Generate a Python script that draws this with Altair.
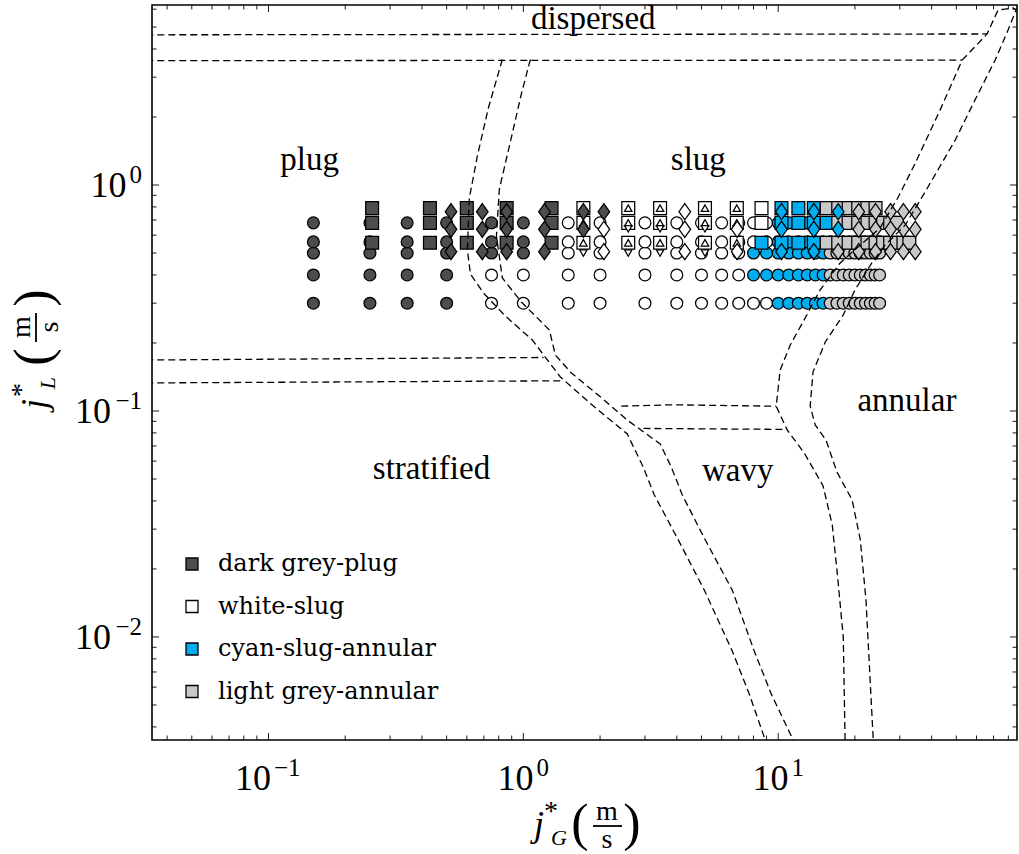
import altair as alt
import pandas as pd

SERIF = "Liberation Serif"
LEGEND_FONT = "DejaVu Serif"

# plot rectangle size in pixels and outer padding
W, H = 865, 735
PAD = {"left": 152, "top": 5, "right": 2, "bottom": 114}

X_DOMAIN = [0.0349, 86.5]
Y_DOMAIN = [0.0035, 6.26]

REGIMES = ["dark grey-plug", "white-slug", "cyan-slug-annular", "light grey-annular"]
REGIME_COLORS = ["#4d4d4d", "#ffffff", "#00aeef", "#c8c8c8"]
CODES = {"D": REGIMES[0], "W": REGIMES[1], "C": REGIMES[2], "G": REGIMES[3]}

# ---- measured points (x = j_G*, y = j_L*), one code letter per x value ----
CIRCLE_X = [0.15, 0.25, 0.35, 0.5, 0.75, 1, 1.5, 2, 3, 4, 5, 6, 7, 8, 9, 10,
            11, 12, 13, 14, 15, 16, 17, 18, 19, 20, 21, 22, 23, 24, 25]
CIRCLE_Y = [0.30, 0.40, 0.50, 0.56, 0.68]
CIRCLE_CODES = [
    "DDDD" + "WWWWWWWWWWW" + "CCCCCC" + "GGGGGGGGGG",
    "DDDD" + "WWWWWWWWW" + "CCCCCCCC" + "GGGGGGGGGG",
    "DDDDDD" + "WWWWWWW" + "CCCCCCCC" + "GGGGGGGGGG",
    "DDDDDD" + "WWWWWWWWW" + "CCCCCC" + "GGGGGGGGGG",
    "DDDDDD" + "WWWWWWWWW" + "CCCCCC" + "GGGGGGGGGG",
]

SQUARE_X = [0.255, 0.43, 0.60, 0.86, 1.29, 1.72, 2.58, 3.44, 5.16, 6.88, 8.6,
            10.3, 12.0, 13.8, 15.5, 17.2, 18.9, 20.6, 22.4, 24.1, 25.8, 27.5,
            29.2, 31.0, 32.7]
SQUARE_Y = [0.555, 0.68, 0.79]
SQUARE_CODES = [
    "DDDDD" + "WWWWW" + "CCCC" + "GGGGGGGGGGG",
    "DDDDD" + "WWWWWW" + "CCCC" + "GGGGGGGG" + "--",
    "DDDDD" + "WWWWWW" + "CCC" + "GGGGGG" + "-----",
]

DIAMOND_X = [0.52, 0.69, 0.86, 1.21, 1.72, 2.07, 4.3, 6.9, 10.3, 13.8, 17.2,
             20.7, 24.1, 27.6, 31.0, 34.5]
DIAMOND_Y = [0.507, 0.637, 0.762]
DIAMOND_CODES = [
    "DDDD-" + "WWW" + "CC" + "GGGGGG",
    "DDDDD" + "WWW" + "CCC" + "GGGGG",
    "DDDDDD" + "W-" + "CCC" + "GGGGG",
]

TRI_X = [1.72, 2.58, 3.44, 5.16, 6.88]
TRI_UP_Y = [0.555, 0.68, 0.79]
TRI_UP_CODES = ["WWWWW", "WWWWW", "WWWWW"]
TRI_DOWN_Y = [0.50, 0.64]
TRI_DOWN_CODES = ["WWWWW", "WWWWW"]

# ---- dashed regime boundaries ----
LINES = {
    "disp_upper": ([0.03, 66.0], [4.62, 4.66]),
    "disp_lower": ([0.03, 52.7], [3.55, 3.57]),
    "strat_upper": ([0.03, 1.2], [0.168, 0.1725]),
    "strat_lower": ([0.03, 1.4], [0.133, 0.136]),
    "wavy_upper": ([2.42, 3.8, 9.82], [0.105, 0.1065, 0.105]),
    "wavy_lower": ([2.96, 10.85], [0.0837, 0.0829]),
    "mid_left": ([0.827, 0.729, 0.660, 0.614, 0.603, 0.620, 0.697, 0.850, 1.085,
                  1.397, 1.882, 2.557, 2.955, 3.265, 4.018, 5.127, 6.601, 7.695, 8.894],
                 [3.592, 2.191, 1.344, 0.876, 0.516, 0.404, 0.333, 0.263, 0.206,
                  0.1414, 0.1052, 0.0791, 0.0565, 0.0425, 0.0274, 0.01614, 0.00867, 0.0056, 0.0035]),
    "mid_right": ([1.065, 0.982, 0.889, 0.805, 0.784, 0.827, 0.982, 1.265, 1.335, 1.543,
                   1.987, 2.557, 3.445, 3.805, 4.203, 5.127, 6.601, 8.05, 9.387, 11.45],
                  [3.592, 2.527, 1.55, 0.960, 0.595, 0.388, 0.3036, 0.2283, 0.1769, 0.1473,
                   0.1165, 0.0912, 0.0714, 0.0565, 0.0425, 0.0274, 0.01614, 0.00867, 0.0056, 0.0035]),
    "annular": ([18.3, 18.0, 17.0, 16.3, 15.0, 12.65, 10.85, 9.82, 10.18, 11.15,
                 12.76, 14.6, 17.5, 21.0, 25.1, 29.6, 34.5, 43.2, 52.7, 66.0,
                 72.9, 83.5, 85.8, 79.8, 71.0, 59.2, 49.5, 37.7, 31.5, 26.3,
                 23.4, 20.0, 18.0, 15.3, 13.7, 13.35, 13.97, 15.4, 17.0, 19.5,
                 21.0, 22.1, 23.6],
                [0.0035, 0.0100, 0.0198, 0.0313, 0.0466, 0.0652, 0.0824, 0.105, 0.152, 0.196,
                 0.258, 0.343, 0.452, 0.543, 0.645, 0.885, 1.25, 2.15, 3.57, 4.66,
                 5.95, 6.07, 5.95, 4.85, 3.57, 2.38, 1.58, 0.931, 0.665, 0.543,
                 0.456, 0.343, 0.266, 0.202, 0.149, 0.105, 0.0867, 0.0744, 0.0537, 0.0404,
                 0.0269, 0.0146, 0.0035]),
}

REGION_LABELS = ["dispersed", "plug", "slug", "annular", "stratified", "wavy"]
REGION_X = [1.88, 0.145, 4.86, 32.0, 0.436, 6.94]
REGION_Y = [4.90, 1.165, 1.165, 0.1004, 0.0500, 0.0490]

X_MAJOR = [0.1, 1, 10]
X_MINOR = [0.04, 0.05, 0.06, 0.07, 0.08, 0.09, 0.2, 0.3, 0.4, 0.5, 0.6, 0.7, 0.8, 0.9,
           2, 3, 4, 5, 6, 7, 8, 9, 20, 30, 40, 50, 60, 70, 80]
Y_MAJOR = [0.01, 0.1, 1]
Y_MINOR = [0.004, 0.005, 0.006, 0.007, 0.008, 0.009, 0.02, 0.03, 0.04, 0.05, 0.06,
           0.07, 0.08, 0.09, 0.2, 0.3, 0.4, 0.5, 0.6, 0.7, 0.8, 0.9, 2, 3, 4, 5, 6]
X_LABEL_EXP = ["\u22121", "0", "1"]
Y_LABEL_EXP = ["\u22122", "\u22121", "0"]

# ---------------------------------------------------------------------------
XS = alt.Scale(type="log", domain=X_DOMAIN, nice=False)
YS = alt.Scale(type="log", domain=Y_DOMAIN, nice=False)
FILL_SCALE = alt.Scale(domain=REGIMES, range=REGIME_COLORS)
LEGEND = alt.Legend(title=None, orient="none", legendX=28, legendY=547,
                    symbolType="square", symbolSize=144, symbolStrokeColor="black",
                    symbolStrokeWidth=1.3, symbolOpacity=1, labelFont=LEGEND_FONT,
                    labelFontSize=24, labelColor="black", labelOffset=14,
                    rowPadding=18.5, padding=0, labelLimit=400)
ONE = pd.DataFrame({"k": [0]})


def rel_x(xa):
    return xa - PAD["left"]


def rel_y(ya):
    return ya - PAD["top"]


def points(xs, ys, codes):
    recs = []
    for y, row in zip(ys, codes):
        for x, c in zip(xs, row):
            if c in CODES:
                recs.append({"x": x, "y": y, "regime": CODES[c]})
    return pd.DataFrame(recs)


def marker_layer(df, shape, size):
    return alt.Chart(df).mark_point(
        shape=shape, filled=True, size=size, stroke="black", strokeWidth=1.25, opacity=1
    ).encode(
        x=alt.X("x:Q", scale=XS, axis=None),
        y=alt.Y("y:Q", scale=YS, axis=None),
        fill=alt.Fill("regime:N", scale=FILL_SCALE, legend=LEGEND),
    )


layers = []
layers.append(marker_layer(points(CIRCLE_X, CIRCLE_Y, CIRCLE_CODES), "circle", 140))
layers.append(marker_layer(points(SQUARE_X, SQUARE_Y, SQUARE_CODES), "square", 165))
layers.append(marker_layer(points(TRI_X, TRI_UP_Y, TRI_UP_CODES), "triangle-up", 55))
layers.append(marker_layer(points(TRI_X, TRI_DOWN_Y, TRI_DOWN_CODES), "triangle-down", 55))
layers.append(marker_layer(points(DIAMOND_X, DIAMOND_Y, DIAMOND_CODES),
                           "M0,-1L0.72,0L0,1L-0.72,0Z", 260))

# dashed boundaries
line_recs = []
for name, (lx, ly) in LINES.items():
    for i, (a, b) in enumerate(zip(lx, ly)):
        line_recs.append({"line": name, "idx": i, "x": a, "y": b})
layers.append(
    alt.Chart(pd.DataFrame(line_recs)).mark_line(
        color="black", strokeWidth=1.3, strokeDash=[7, 4], clip=True
    ).encode(
        x=alt.X("x:Q", scale=XS, axis=None),
        y=alt.Y("y:Q", scale=YS, axis=None),
        detail="line:N",
        order="idx:Q",
    )
)

# region labels
layers.append(
    alt.Chart(pd.DataFrame({"t": REGION_LABELS, "x": REGION_X, "y": REGION_Y})).mark_text(
        font=SERIF, fontSize=33, color="black", align="center", baseline="alphabetic"
    ).encode(
        x=alt.X("x:Q", scale=XS, axis=None),
        y=alt.Y("y:Q", scale=YS, axis=None),
        text="t:N",
    )
)

# inward ticks on all four sides
for vals, length in [(X_MAJOR, 7), (X_MINOR, 4.5)]:
    df = pd.DataFrame({"v": vals})
    layers.append(alt.Chart(df).mark_rule(color="black", strokeWidth=0.9).encode(
        x=alt.X("v:Q", scale=XS, axis=None), y=alt.value(H), y2=alt.value(H - length)))
    layers.append(alt.Chart(df).mark_rule(color="black", strokeWidth=0.9).encode(
        x=alt.X("v:Q", scale=XS, axis=None), y=alt.value(0), y2=alt.value(length)))
for vals, length in [(Y_MAJOR, 7), (Y_MINOR, 4.5)]:
    df = pd.DataFrame({"v": vals})
    layers.append(alt.Chart(df).mark_rule(color="black", strokeWidth=0.9).encode(
        y=alt.Y("v:Q", scale=YS, axis=None), x=alt.value(0), x2=alt.value(length)))
    layers.append(alt.Chart(df).mark_rule(color="black", strokeWidth=0.9).encode(
        y=alt.Y("v:Q", scale=YS, axis=None), x=alt.value(W), x2=alt.value(W - length)))

BASE_FS, EXP_FS = 36, 25


def exp_width(e):
    return sum(0.62 * EXP_FS if ch == "\u2212" else 0.5 * EXP_FS for ch in e)


# x tick labels  10^e
for v, e in zip(X_MAJOR, X_LABEL_EXP):
    df = pd.DataFrame({"v": [v]})
    total = BASE_FS + 3 + exp_width(e)
    base_dx = -total / 2 + BASE_FS
    layers.append(alt.Chart(df).mark_text(
        text="10", font=SERIF, fontSize=BASE_FS, align="right", baseline="alphabetic",
        dx=base_dx, color="black").encode(
        x=alt.X("v:Q", scale=XS, axis=None), y=alt.value(rel_y(790))))
    layers.append(alt.Chart(df).mark_text(
        text=e, font=SERIF, fontSize=EXP_FS, align="left", baseline="alphabetic",
        dx=base_dx + 3, color="black").encode(
        x=alt.X("v:Q", scale=XS, axis=None), y=alt.value(rel_y(776))))

# y tick labels
for v, e in zip(Y_MAJOR, Y_LABEL_EXP):
    df = pd.DataFrame({"v": [v]})
    right = rel_x(142)
    layers.append(alt.Chart(df).mark_text(
        text=e, font=SERIF, fontSize=EXP_FS, align="right", baseline="alphabetic",
        dy=-2, color="black").encode(
        y=alt.Y("v:Q", scale=YS, axis=None), x=alt.value(right)))
    layers.append(alt.Chart(df).mark_text(
        text="10", font=SERIF, fontSize=BASE_FS, align="right", baseline="alphabetic",
        dy=12, color="black").encode(
        y=alt.Y("v:Q", scale=YS, axis=None), x=alt.value(right - exp_width(e) - 3)))


def piece(text, xa, ya, size, italic=False, angle=0):
    kw = dict(text=text, font=SERIF, fontSize=size, align="center",
              baseline="alphabetic", color="black")
    if italic:
        kw["fontStyle"] = "italic"
    if angle:
        kw["angle"] = angle
    return alt.Chart(ONE).mark_text(**kw).encode(
        x=alt.value(rel_x(xa)), y=alt.value(rel_y(ya)))


# x axis title  j*_G (m/s)
layers += [
    piece("j", 539, 836, 36, italic=True),
    piece("*", 551, 820, 28),
    piece("G", 559, 845, 22, italic=True),
    piece("(", 580, 840, 52),
    piece("m", 607, 820, 28),
    piece("s", 607, 848, 28),
    piece(")", 632, 840, 52),
    alt.Chart(ONE).mark_rule(color="black", strokeWidth=1.8).encode(
        x=alt.value(rel_x(593)), x2=alt.value(rel_x(622)), y=alt.value(rel_y(826))),
]

# y axis title  j*_L (m/s), rotated
layers += [
    piece("j", 46, 404, 36, italic=True, angle=270),
    piece("*", 30, 390, 28, angle=270),
    piece("L", 55, 383, 22, italic=True, angle=270),
    piece("(", 50, 357, 52, angle=270),
    piece("m", 30, 327, 28, angle=270),
    piece("s", 58, 327, 28, angle=270),
    piece(")", 50, 298, 52, angle=270),
    alt.Chart(ONE).mark_rule(color="black", strokeWidth=1.8).encode(
        y=alt.value(rel_y(313)), y2=alt.value(rel_y(342)), x=alt.value(rel_x(36))),
]

chart = alt.layer(*layers).properties(
    width=W, height=H, padding=PAD, autosize=alt.AutoSizeParams(type="none")
).configure_view(stroke="black", strokeWidth=1.6)

chart.save("out.html", embed_options={"renderer": "svg", "actions": False})
